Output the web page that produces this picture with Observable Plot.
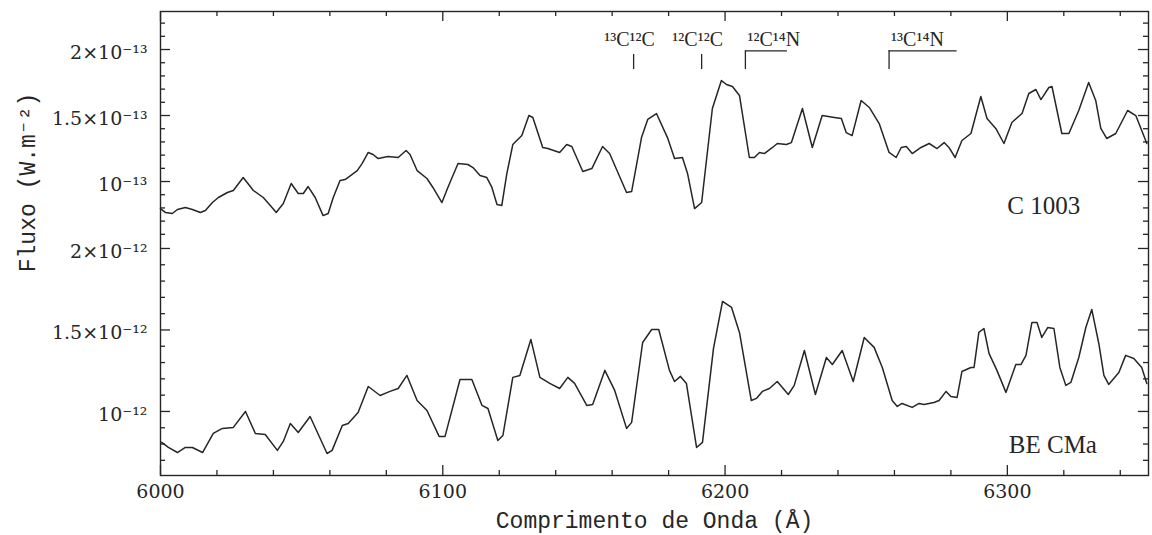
<!DOCTYPE html>
<html><head><meta charset="utf-8">
<script src="https://cdn.jsdelivr.net/npm/d3@7"></script>
<script src="https://cdn.jsdelivr.net/npm/@observablehq/plot@0.6"></script>
<style>
body{margin:0;background:#fff;}
#chart{width:1152px;height:535px;background:#fff;}
</style></head><body><div id="chart"></div>
<script>
// C 1003 spectrum: wavelength (Å) and flux in units of 1e-13 W m^-2
const wavelengthC1003 = [6000.0,6001.8,6004.2,6006.0,6008.8,6011.3,6014.1,6015.9,6018.4,6020.5,6023.7,6025.8,6029.3,6032.9,6036.4,6038.9,6041.0,6043.5,6046.3,6048.8,6050.6,6052.3,6054.8,6057.6,6059.4,6061.2,6063.6,6065.4,6069.7,6071.4,6073.6,6075.3,6077.1,6080.6,6084.2,6087.0,6088.4,6090.9,6094.4,6096.5,6099.7,6101.8,6105.4,6108.9,6110.7,6113.2,6115.6,6117.4,6119.2,6120.9,6122.7,6124.8,6128.0,6130.5,6131.9,6135.4,6137.2,6141.4,6143.9,6145.7,6149.6,6152.8,6156.6,6159.1,6165.1,6166.9,6170.4,6172.6,6175.7,6179.6,6182.1,6184.9,6186.7,6189.2,6191.7,6195.5,6198.7,6200.5,6202.6,6205.1,6208.6,6210.4,6212.2,6213.9,6216.8,6218.5,6221.7,6223.5,6227.4,6230.9,6234.4,6238.7,6241.2,6242.9,6245.0,6248.2,6251.1,6254.6,6258.1,6260.6,6262.4,6264.2,6266.3,6269.4,6272.3,6275.1,6277.6,6279.3,6281.5,6283.9,6287.1,6290.6,6292.8,6295.9,6298.8,6301.6,6305.2,6307.6,6310.1,6311.9,6314.7,6315.8,6319.3,6321.8,6325.3,6328.8,6331.3,6333.1,6335.2,6338.4,6342.6,6345.5,6347.6,6349.4];
const fluxC1003 = [0.795,0.765,0.758,0.788,0.803,0.788,0.765,0.780,0.841,0.879,0.917,0.932,1.030,0.932,0.879,0.818,0.765,0.833,0.985,0.909,0.909,0.962,0.879,0.742,0.758,0.879,1.008,1.015,1.083,1.136,1.220,1.205,1.174,1.189,1.182,1.235,1.205,1.083,1.023,0.955,0.841,0.955,1.136,1.129,1.106,1.045,1.030,0.955,0.826,0.818,1.061,1.280,1.348,1.500,1.485,1.258,1.250,1.220,1.280,1.265,1.076,1.098,1.265,1.212,0.917,0.924,1.333,1.470,1.515,1.333,1.174,1.182,1.061,0.795,0.841,1.553,1.765,1.735,1.720,1.652,1.182,1.182,1.220,1.212,1.258,1.288,1.280,1.295,1.553,1.258,1.500,1.485,1.477,1.371,1.348,1.614,1.561,1.439,1.220,1.182,1.258,1.265,1.212,1.258,1.288,1.250,1.295,1.258,1.182,1.311,1.364,1.644,1.477,1.402,1.288,1.447,1.515,1.667,1.697,1.621,1.712,1.720,1.364,1.364,1.538,1.750,1.614,1.402,1.326,1.364,1.538,1.500,1.386,1.288];

// BE CMa spectrum: wavelength (Å) and flux in units of 1e-12 W m^-2
const wavelengthBECMa = [6000.4,6002.8,6006.0,6008.8,6011.3,6014.9,6018.7,6021.9,6025.8,6030.1,6033.6,6037.1,6041.4,6043.5,6046.0,6048.8,6053.0,6059.0,6060.8,6064.4,6066.5,6070.0,6073.6,6077.8,6081.3,6084.2,6087.3,6090.9,6094.4,6098.7,6100.8,6106.1,6110.3,6113.9,6116.0,6119.5,6121.3,6124.8,6127.3,6131.2,6134.4,6137.9,6141.4,6144.3,6146.7,6151.0,6153.1,6157.4,6160.9,6165.1,6166.9,6170.8,6174.0,6176.5,6180.3,6182.1,6184.2,6186.3,6189.9,6192.0,6195.9,6199.1,6202.3,6205.1,6209.3,6211.1,6213.2,6215.7,6218.5,6222.4,6224.5,6228.1,6232.0,6235.9,6238.0,6241.5,6245.4,6249.3,6252.8,6255.7,6259.2,6261.0,6262.7,6266.3,6268.7,6270.5,6274.0,6275.8,6278.3,6280.0,6282.2,6283.9,6287.1,6288.2,6289.9,6291.7,6293.5,6296.3,6299.5,6303.0,6304.8,6306.6,6308.7,6310.5,6312.2,6314.3,6316.5,6318.6,6320.7,6322.5,6325.3,6327.8,6329.9,6332.4,6334.2,6335.9,6339.5,6341.9,6344.8,6347.6,6349.4];
const fluxBECMa = [0.810,0.779,0.748,0.779,0.779,0.748,0.865,0.896,0.902,1.000,0.865,0.859,0.761,0.816,0.926,0.871,0.969,0.742,0.761,0.914,0.926,0.994,1.153,1.098,1.123,1.141,1.221,1.067,1.006,0.847,0.847,1.196,1.196,1.037,1.018,0.822,0.853,1.209,1.221,1.442,1.209,1.172,1.141,1.209,1.172,1.037,1.043,1.252,1.129,0.896,0.933,1.423,1.503,1.503,1.252,1.184,1.215,1.172,0.779,0.810,1.387,1.675,1.638,1.485,1.067,1.080,1.123,1.141,1.184,1.104,1.160,1.374,1.104,1.331,1.288,1.374,1.184,1.454,1.393,1.270,1.067,1.031,1.049,1.025,1.049,1.043,1.055,1.067,1.123,1.092,1.086,1.245,1.270,1.270,1.485,1.509,1.356,1.252,1.117,1.288,1.288,1.344,1.546,1.546,1.454,1.515,1.509,1.270,1.160,1.178,1.331,1.515,1.626,1.417,1.221,1.166,1.239,1.344,1.325,1.270,1.172];

// Axis ticks
const xTickLabels = [6000, 6100, 6200, 6300];
const xTicksMinor = [6020,6040,6060,6080,6120,6140,6160,6180,6220,6240,6260,6280,6320,6340];
const yTickLabelsC1003 = [1, 1.5, 2];
const yTicksMinorC1003 = [0.6,0.7,0.8,0.9,1.1,1.2,1.3,1.4,1.6,1.7,1.8,1.9,2.1,2.2];
const yTickLabelsBECMa = [1, 1.5, 2];
const yTicksMinorBECMa = [0.7,0.8,0.9,1.1,1.2,1.3,1.4,1.6,1.7,1.8,1.9];

// Molecular band identifications (Å)
const bandLabels = ["¹³C¹²C", "¹²C¹²C", "¹²C¹⁴N", "¹³C¹⁴N"];
const bandStart = [6167.6, 6191.7, 6207.2, 6258.1];
const bandEnd = [null, null, 6222.1, 6282.2];

const starNames = ["C 1003", "BE CMa"];
const xTitle = "Comprimento de Onda (Å)";
const yTitle = "Fluxo (W.m⁻²)";

const ink = "#262626";
const serif = "'DejaVu Serif', serif";
const roman = "'Liberation Serif', serif";
const mono = "'Liberation Mono', 'DejaVu Sans Mono', monospace";

const W = 1152, H = 535, mL = 160, mR = 4, mT = 11, mB = 60;
const innerW = W - mL - mR, innerH = H - mT - mB;
const xDomain = [6000, 6350];
// The y scale is in C 1003 units; the BE CMa flux axis (1e-12) is offset on the same frame
const yDomainC1003 = [-1.227, 2.288];
const yDomainBECMa = [0.607, 3.454];
const becmaToFrame = d3.scaleLinear().domain(yDomainBECMa).range(yDomainC1003);

const upper = wavelengthC1003.map((w, i) => ({w, f: fluxC1003[i]}));
const lower = wavelengthBECMa.map((w, i) => ({w, f: becmaToFrame(fluxBECMa[i])}));
const bands = bandLabels.map((label, i) => ({label, start: bandStart[i], end: bandEnd[i]}));
const singles = bands.filter(d => d.end == null);
const brackets = bands.filter(d => d.end != null);

const sup = {"-": "⁻", "1": "¹", "2": "²", "3": "³"};
const fmt = e => v => (v === 1 ? "" : (v + "×")) + "10⁻" + String(e).split("").map(c => sup[c]).join("");

// inward-pointing tick marks as short rules (pixel lengths converted to data units)
const xPerPx = (xDomain[1] - xDomain[0]) / innerW;
const yPerPx = (yDomainC1003[1] - yDomainC1003[0]) / innerH;
const xTickSegs = [];
for (const [ticks, len] of [[xTickLabels, 10], [xTicksMinor, 5]]) {
  for (const v of ticks) {
    xTickSegs.push({x: v, y1: yDomainC1003[0], y2: yDomainC1003[0] + len * yPerPx});
    xTickSegs.push({x: v, y1: yDomainC1003[1] - len * yPerPx, y2: yDomainC1003[1]});
  }
}
const yTickSegs = [];
for (const [ticks, len, toFrame] of [[yTickLabelsC1003, 10, v => v], [yTicksMinorC1003, 5, v => v], [yTickLabelsBECMa, 10, becmaToFrame], [yTicksMinorBECMa, 5, becmaToFrame]]) {
  for (const v of ticks) {
    yTickSegs.push({y: toFrame(v), x1: xDomain[0], x2: xDomain[0] + len * xPerPx});
    yTickSegs.push({y: toFrame(v), x1: xDomain[1] - len * xPerPx, x2: xDomain[1]});
  }
}
const lowerLabels = yTickLabelsBECMa.map(v => ({y: becmaToFrame(v), label: fmt(12)(v)}));

const plot = Plot.plot({
  width: W, height: H,
  marginLeft: mL, marginRight: mR, marginTop: mT, marginBottom: mB,
  style: {fontFamily: serif, fontSize: "19px", color: ink, background: "#fff"},
  x: {domain: xDomain},
  y: {domain: yDomainC1003},
  marks: [
    Plot.frame({stroke: ink, strokeWidth: 1.4}),
    Plot.ruleX(xTickSegs, {x: "x", y1: "y1", y2: "y2", stroke: ink, strokeWidth: 1.3}),
    Plot.ruleY(yTickSegs, {y: "y", x1: "x1", x2: "x2", stroke: ink, strokeWidth: 1.3}),
    Plot.axisX({anchor: "bottom", ticks: xTickLabels, tickSize: 0, tickPadding: 9, tickFormat: d => String(d), label: null}),
    Plot.axisY({anchor: "left", ticks: yTickLabelsC1003, tickSize: 0, tickPadding: 13, dy: 3, tickFormat: fmt(13), label: null}),
    Plot.text(lowerLabels, {x: xDomain[0], y: "y", text: "label", textAnchor: "end", lineAnchor: "middle", dx: -13, dy: 3, fontFamily: serif, fontSize: 19, fill: ink}),
    Plot.line(upper, {x: "w", y: "f", stroke: ink, strokeWidth: 1.5}),
    Plot.line(lower, {x: "w", y: "f", stroke: ink, strokeWidth: 1.5}),
    Plot.ruleX(bands, {x: "start", y1: 1.848, y2: d => d.end == null ? 1.962 : 1.99, stroke: ink, strokeWidth: 1.3}),
    Plot.ruleY(brackets, {y: 1.99, x1: "start", x2: "end", stroke: ink, strokeWidth: 1.3}),
    Plot.text(singles, {x: "start", y: 2.03, text: "label", textAnchor: "middle", lineAnchor: "bottom", dx: -4, fontFamily: roman, fontSize: 20, fill: ink}),
    Plot.text(brackets, {x: "start", y: 2.03, text: "label", textAnchor: "start", lineAnchor: "bottom", dx: 2, fontFamily: roman, fontSize: 20, fill: ink}),
    Plot.text([starNames[0]], {x: 6300, y: 0.818, text: d => d, textAnchor: "start", lineAnchor: "middle", fontFamily: roman, fontSize: 25, fill: ink}),
    Plot.text([starNames[1]], {x: 6300.5, y: becmaToFrame(0.797), text: d => d, textAnchor: "start", lineAnchor: "middle", fontFamily: roman, fontSize: 25, fill: ink}),
    Plot.text([xTitle], {frameAnchor: "bottom", dy: 45, text: d => d, textAnchor: "middle", lineAnchor: "middle", fontFamily: mono, fontSize: 23, fill: ink}),
    Plot.text([yTitle], {frameAnchor: "left", rotate: -90, dx: -133, dy: -61, text: d => d, textAnchor: "middle", lineAnchor: "middle", fontFamily: mono, fontSize: 23, fill: ink})
  ]
});
document.getElementById("chart").appendChild(plot);
</script></body></html>
